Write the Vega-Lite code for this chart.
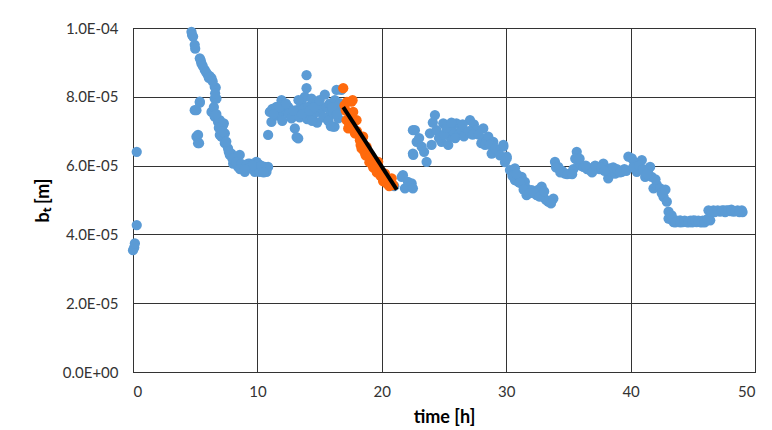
{
  "$schema": "https://vega.github.io/schema/vega-lite/v6.json",
  "width": 622,
  "height": 344,
  "autosize": {"type": "none"},
  "padding": {"left": 133, "top": 28, "right": 17, "bottom": 58},
  "background": "white",
  "config": {"view": {"stroke": "#000", "strokeWidth": 1}, "font": "Lato"},
  "datasets": {
    "blue": [
      {"t":0.0,"b":3.54e-5},{"t":0.1,"b":3.62e-5},{"t":0.15,"b":3.74e-5},{"t":0.3,"b":4.27e-5},{"t":0.3,"b":6.40e-5},
      {"t":4.70,"b":9.89e-5},{"t":4.83,"b":9.75e-5},{"t":4.96,"b":9.51e-5},{"t":5.37,"b":9.12e-5},{"t":5.50,"b":8.97e-5},
      {"t":5.77,"b":8.78e-5},{"t":6.03,"b":8.63e-5},{"t":6.17,"b":8.60e-5},{"t":6.31,"b":8.54e-5},{"t":6.57,"b":8.29e-5},
      {"t":6.65,"b":8.27e-5},{"t":6.71,"b":7.95e-5},{"t":6.57,"b":7.95e-5},{"t":6.44,"b":7.56e-5},{"t":6.31,"b":7.56e-5},
      {"t":6.57,"b":7.42e-5},{"t":6.84,"b":7.27e-5},{"t":6.98,"b":7.32e-5},{"t":7.11,"b":7.18e-5},{"t":7.24,"b":7.18e-5},
      {"t":7.30,"b":7.23e-5},{"t":6.98,"b":6.89e-5},{"t":7.11,"b":6.84e-5},{"t":7.38,"b":6.94e-5},{"t":7.38,"b":6.65e-5},
      {"t":7.64,"b":6.50e-5},{"t":7.78,"b":6.31e-5},{"t":7.91,"b":6.35e-5},{"t":8.05,"b":6.06e-5},{"t":8.18,"b":6.16e-5},
      {"t":8.58,"b":6.31e-5},{"t":8.45,"b":5.96e-5},{"t":8.85,"b":5.96e-5},{"t":8.99,"b":5.82e-5},{"t":9.25,"b":6.06e-5},
      {"t":9.39,"b":6.06e-5},{"t":9.52,"b":5.92e-5},{"t":9.79,"b":5.82e-5},{"t":9.92,"b":6.11e-5},{"t":10.05,"b":6.06e-5},
      {"t":10.19,"b":5.96e-5},{"t":10.19,"b":5.82e-5},{"t":10.46,"b":5.96e-5},{"t":10.6,"b":5.96e-5},{"t":10.73,"b":5.82e-5},
      {"t":10.86,"b":5.96e-5},
      {"t":4.75,"b":9.8e-5},{"t":5.0,"b":9.4e-5},{"t":5.45,"b":9.05e-5},{"t":5.6,"b":8.9e-5},{"t":5.9,"b":8.7e-5},
      {"t":6.1,"b":8.55e-5},{"t":6.4,"b":8.45e-5},{"t":6.6,"b":8.1e-5},{"t":6.5,"b":7.7e-5},{"t":6.7,"b":7.5e-5},
      {"t":6.9,"b":7.1e-5},{"t":7.2,"b":7.0e-5},{"t":7.5,"b":6.7e-5},{"t":7.7,"b":6.4e-5},{"t":8.0,"b":6.2e-5},
      {"t":8.3,"b":6.1e-5},{"t":8.7,"b":6.05e-5},{"t":9.1,"b":6.0e-5},{"t":9.6,"b":6.0e-5},{"t":10.3,"b":6.0e-5},
      {"t":10.5,"b":5.8e-5},{"t":8.6,"b":5.9e-5},{"t":9.0,"b":5.9e-5},
      {"t":4.96,"b":7.61e-5},{"t":5.10,"b":7.61e-5},{"t":5.37,"b":7.86e-5},{"t":5.37,"b":7.83e-5},{"t":5.10,"b":6.84e-5},
      {"t":5.23,"b":6.89e-5},{"t":5.23,"b":6.65e-5},{"t":5.31,"b":6.65e-5},
      {"t":10.86,"b":6.89e-5},{"t":11.0,"b":7.56e-5},{"t":11.13,"b":7.27e-5},{"t":11.2,"b":7.65e-5},{"t":11.53,"b":7.71e-5},
      {"t":11.6,"b":7.45e-5},{"t":11.94,"b":7.90e-5},{"t":12.07,"b":7.56e-5},{"t":12.2,"b":7.65e-5},{"t":12.47,"b":7.71e-5},
      {"t":12.5,"b":7.50e-5},{"t":12.74,"b":7.37e-5},{"t":13.01,"b":7.08e-5},{"t":13.15,"b":6.83e-5},{"t":13.28,"b":6.79e-5},
      {"t":13.15,"b":7.61e-5},{"t":13.4,"b":7.40e-5},{"t":13.55,"b":7.81e-5},{"t":13.7,"b":7.65e-5},{"t":13.81,"b":8.00e-5},
      {"t":13.95,"b":8.25e-5},{"t":13.95,"b":8.63e-5},{"t":14.0,"b":7.35e-5},{"t":14.08,"b":7.71e-5},{"t":14.35,"b":7.95e-5},
      {"t":14.48,"b":7.47e-5},{"t":14.75,"b":7.81e-5},{"t":14.8,"b":7.25e-5},{"t":15.02,"b":7.56e-5},{"t":15.2,"b":7.65e-5},
      {"t":15.42,"b":8.06e-5},{"t":15.56,"b":7.71e-5},{"t":15.8,"b":7.80e-5},{"t":15.82,"b":7.47e-5},{"t":16.09,"b":7.13e-5},
      {"t":16.1,"b":7.52e-5},{"t":16.2,"b":7.13e-5},{"t":16.23,"b":7.90e-5},{"t":16.36,"b":8.20e-5},{"t":16.5,"b":7.37e-5},
      {"t":16.5,"b":7.65e-5},{"t":16.63,"b":7.81e-5},{"t":16.75,"b":8.20e-5},
      {"t":11.3,"b":7.5e-5},{"t":11.8,"b":7.7e-5},{"t":12.3,"b":7.8e-5},{"t":12.9,"b":7.6e-5},{"t":13.3,"b":7.9e-5},
      {"t":13.6,"b":7.5e-5},{"t":14.2,"b":7.6e-5},{"t":14.6,"b":7.7e-5},{"t":15.0,"b":7.9e-5},{"t":15.3,"b":7.4e-5},
      {"t":15.7,"b":7.3e-5},{"t":16.0,"b":7.7e-5},{"t":16.4,"b":7.5e-5},{"t":12.0,"b":7.3e-5},{"t":14.4,"b":7.3e-5},
      {"t":15.9,"b":7.15e-5},
      {"t":20.6,"b":5.55e-5},{"t":21.0,"b":5.40e-5},{"t":21.6,"b":5.67e-5},{"t":21.7,"b":5.72e-5},{"t":21.86,"b":5.34e-5},
      {"t":22.1,"b":5.53e-5},{"t":22.4,"b":5.48e-5},{"t":22.5,"b":5.34e-5},{"t":22.53,"b":6.31e-5},{"t":22.5,"b":6.35e-5},
      {"t":22.8,"b":6.69e-5},{"t":22.66,"b":7.03e-5},{"t":22.5,"b":7.03e-5},{"t":23.2,"b":6.55e-5},{"t":23.6,"b":6.11e-5},
      {"t":23.87,"b":6.94e-5},{"t":24.27,"b":7.47e-5},{"t":24.4,"b":7.03e-5},{"t":24.8,"b":6.69e-5},{"t":24.94,"b":7.23e-5},
      {"t":25.34,"b":6.60e-5},{"t":25.48,"b":6.84e-5},{"t":25.7,"b":7.0e-5},{"t":26.0,"b":7.23e-5},{"t":26.2,"b":6.9e-5},
      {"t":26.42,"b":7.03e-5},{"t":26.8,"b":6.94e-5},{"t":27.09,"b":7.32e-5},{"t":27.4,"b":7.2e-5},{"t":27.62,"b":7.03e-5},
      {"t":28.0,"b":6.65e-5},{"t":28.16,"b":7.08e-5},{"t":28.4,"b":6.8e-5},{"t":28.56,"b":6.84e-5},{"t":28.83,"b":6.35e-5},
      {"t":28.96,"b":6.69e-5},{"t":29.36,"b":6.45e-5},{"t":29.77,"b":6.55e-5},{"t":29.77,"b":6.60e-5},{"t":30.04,"b":6.26e-5},
      {"t":23.0,"b":6.8e-5},{"t":23.4,"b":6.4e-5},{"t":24.0,"b":6.6e-5},{"t":24.6,"b":6.8e-5},{"t":25.0,"b":6.9e-5},
      {"t":25.2,"b":7.1e-5},{"t":25.9,"b":6.8e-5},{"t":26.5,"b":7.2e-5},{"t":26.6,"b":6.85e-5},{"t":27.0,"b":7.0e-5},
      {"t":27.3,"b":6.9e-5},{"t":27.8,"b":6.9e-5},{"t":28.3,"b":6.6e-5},{"t":28.7,"b":6.6e-5},{"t":29.1,"b":6.5e-5},
      {"t":29.5,"b":6.3e-5},{"t":29.9,"b":6.1e-5},{"t":24.1,"b":7.25e-5},{"t":25.6,"b":7.25e-5},
      {"t":30.04,"b":6.21e-5},{"t":30.3,"b":5.87e-5},{"t":30.7,"b":5.92e-5},{"t":30.7,"b":5.58e-5},{"t":30.97,"b":5.53e-5},
      {"t":31.24,"b":5.67e-5},{"t":31.5,"b":5.53e-5},{"t":31.64,"b":5.34e-5},{"t":31.64,"b":5.14e-5},{"t":32.05,"b":5.29e-5},
      {"t":32.45,"b":5.14e-5},{"t":32.6,"b":5.3e-5},{"t":32.85,"b":5.39e-5},{"t":32.99,"b":5.09e-5},{"t":33.2,"b":5.0e-5},
      {"t":33.38,"b":4.95e-5},{"t":33.79,"b":5.04e-5},
      {"t":30.5,"b":5.7e-5},{"t":30.85,"b":5.75e-5},{"t":31.1,"b":5.5e-5},{"t":31.4,"b":5.3e-5},{"t":31.85,"b":5.2e-5},
      {"t":32.2,"b":5.2e-5},{"t":32.7,"b":5.1e-5},{"t":33.05,"b":5.25e-5},{"t":33.6,"b":4.9e-5},
      {"t":33.92,"b":6.11e-5},{"t":34.19,"b":5.96e-5},{"t":34.5,"b":5.85e-5},
      {"t":34.73,"b":5.77e-5},{"t":35.13,"b":5.77e-5},{"t":35.4,"b":5.9e-5},{"t":35.67,"b":6.40e-5},{"t":35.8,"b":6.11e-5},
      {"t":36.0,"b":6.0e-5},{"t":36.2,"b":5.96e-5},{"t":36.5,"b":5.9e-5},{"t":36.74,"b":5.87e-5},{"t":37.0,"b":5.95e-5},
      {"t":37.28,"b":5.96e-5},{"t":37.5,"b":5.9e-5},{"t":37.81,"b":6.06e-5},{"t":38.0,"b":5.9e-5},{"t":38.2,"b":5.63e-5},
      {"t":38.35,"b":5.92e-5},{"t":38.5,"b":5.8e-5},{"t":38.75,"b":5.77e-5},{"t":39.0,"b":5.85e-5},{"t":39.29,"b":5.82e-5},
      {"t":39.5,"b":5.9e-5},{"t":39.82,"b":6.26e-5},{"t":40.1,"b":6.21e-5},{"t":40.3,"b":6.1e-5},{"t":40.5,"b":5.82e-5},
      {"t":40.9,"b":6.16e-5},{"t":41.17,"b":5.67e-5},{"t":41.4,"b":5.85e-5},{"t":41.57,"b":5.96e-5},{"t":41.7,"b":5.67e-5},
      {"t":34.0,"b":5.95e-5},{"t":34.35,"b":5.8e-5},{"t":34.9,"b":5.75e-5},{"t":35.3,"b":5.75e-5},{"t":35.55,"b":6.2e-5},
      {"t":35.9,"b":6.2e-5},{"t":36.4,"b":6.0e-5},{"t":36.9,"b":5.8e-5},{"t":37.15,"b":6.0e-5},{"t":37.65,"b":5.95e-5},
      {"t":37.9,"b":5.85e-5},{"t":38.6,"b":5.95e-5},{"t":38.9,"b":5.9e-5},{"t":39.15,"b":5.8e-5},{"t":39.65,"b":5.85e-5},
      {"t":40.2,"b":5.95e-5},{"t":40.7,"b":6.0e-5},{"t":41.0,"b":5.9e-5},{"t":41.3,"b":5.75e-5},
      {"t":41.84,"b":5.34e-5},{"t":42.1,"b":5.45e-5},{"t":42.38,"b":5.34e-5},{"t":42.65,"b":5.09e-5},{"t":42.91,"b":4.95e-5},
      {"t":43.05,"b":4.66e-5},{"t":43.05,"b":4.46e-5},{"t":43.45,"b":4.36e-5},{"t":43.7,"b":4.4e-5},{"t":43.98,"b":4.41e-5},
      {"t":44.2,"b":4.36e-5},{"t":44.52,"b":4.36e-5},{"t":44.8,"b":4.4e-5},{"t":45.05,"b":4.41e-5},{"t":45.3,"b":4.36e-5},
      {"t":45.59,"b":4.36e-5},{"t":45.8,"b":4.4e-5},{"t":46.12,"b":4.41e-5},{"t":46.26,"b":4.70e-5},{"t":46.4,"b":4.41e-5},
      {"t":46.66,"b":4.70e-5},{"t":46.9,"b":4.68e-5},{"t":47.19,"b":4.66e-5},{"t":47.5,"b":4.7e-5},{"t":47.73,"b":4.70e-5},
      {"t":48.0,"b":4.68e-5},{"t":48.27,"b":4.66e-5},{"t":48.6,"b":4.7e-5},{"t":48.94,"b":4.70e-5},
      {"t":42.0,"b":5.6e-5},{"t":42.5,"b":5.2e-5},{"t":42.8,"b":5.3e-5},{"t":43.2,"b":4.45e-5},{"t":43.3,"b":4.55e-5},
      {"t":43.6,"b":4.35e-5},{"t":44.0,"b":4.35e-5},{"t":44.35,"b":4.4e-5},{"t":44.65,"b":4.35e-5},{"t":44.95,"b":4.35e-5},
      {"t":45.2,"b":4.4e-5},{"t":45.45,"b":4.4e-5},{"t":45.7,"b":4.35e-5},{"t":45.95,"b":4.35e-5},{"t":46.2,"b":4.45e-5},
      {"t":46.5,"b":4.65e-5},{"t":46.75,"b":4.65e-5},{"t":47.0,"b":4.7e-5},{"t":47.35,"b":4.7e-5},{"t":47.6,"b":4.65e-5},
      {"t":47.85,"b":4.7e-5},{"t":48.1,"b":4.72e-5},{"t":48.45,"b":4.68e-5},{"t":48.75,"b":4.65e-5},{"t":49.0,"b":4.65e-5}
    ],
    "orange": [
      {"t":16.9,"b":8.25e-5},{"t":17.0,"b":7.75e-5},{"t":17.17,"b":7.32e-5},{"t":17.3,"b":7.08e-5},{"t":17.45,"b":7.5e-5},
      {"t":17.57,"b":7.86e-5},{"t":17.70,"b":7.56e-5},{"t":17.84,"b":6.94e-5},{"t":17.97,"b":7.32e-5},{"t":18.1,"b":6.9e-5},
      {"t":18.24,"b":6.74e-5},{"t":18.37,"b":6.50e-5},{"t":18.5,"b":6.84e-5},{"t":18.6,"b":6.4e-5},{"t":18.77,"b":6.55e-5},
      {"t":18.91,"b":6.31e-5},{"t":19.0,"b":6.1e-5},{"t":19.18,"b":6.16e-5},{"t":19.3,"b":5.95e-5},{"t":19.44,"b":6.06e-5},
      {"t":19.6,"b":5.8e-5},{"t":19.71,"b":6.11e-5},{"t":19.85,"b":5.87e-5},{"t":20.0,"b":5.75e-5},{"t":20.1,"b":5.55e-5},
      {"t":20.25,"b":5.77e-5},{"t":20.39,"b":5.48e-5},{"t":20.5,"b":5.6e-5},{"t":20.79,"b":5.63e-5},{"t":20.92,"b":5.43e-5},
      {"t":20.6,"b":5.4e-5},
      {"t":17.1,"b":7.6e-5},{"t":17.4,"b":7.2e-5},{"t":17.6,"b":7.1e-5},{"t":18.0,"b":7.0e-5},{"t":18.3,"b":6.6e-5},
      {"t":18.7,"b":6.3e-5},{"t":19.1,"b":6.3e-5},{"t":19.5,"b":5.9e-5},{"t":19.9,"b":5.7e-5},{"t":20.2,"b":5.65e-5},
      {"t":20.7,"b":5.5e-5},{"t":17.2,"b":7.85e-5},{"t":17.65,"b":7.9e-5}
    ],
    "fit": [
      {"t":16.9,"b":7.7e-5},{"t":21.2,"b":5.3e-5}
    ]
  },
  "encoding": {
    "x": {
      "field": "t", "type": "quantitative",
      "scale": {"domain": [0, 50], "nice": false, "zero": false},
      "axis": {
        "values": [0, 10, 20, 30, 40, 50],
        "grid": true, "gridColor": "#333", "gridWidth": 1,
        "domainColor": "#333", "ticks": false,
        "labelFont": "Lato", "labelFontSize": 15, "labelColor": "#333", "labelPadding": 12,
        "title": "time [h]", "titleFont": "Lato", "titleFontSize": 18, "titleFontWeight": "bold", "titleColor": "#000",
        "titleX": 311, "titleY": 45, "titleBaseline": "middle", "titleAlign": "center"
      }
    },
    "y": {
      "field": "b", "type": "quantitative",
      "scale": {"domain": [0, 0.0001], "nice": false},
      "axis": {
        "values": [0, 0.00002, 0.00004, 0.00006, 0.00008, 0.0001],
        "labelExpr": "replace(replace(upper(format(datum.value, '.1e')), 'E-', 'E-0'), 'E+', 'E+0')",
        "grid": true, "gridColor": "#333", "gridWidth": 1,
        "domainColor": "#333", "ticks": false,
        "labelFont": "Lato", "labelFontSize": 15, "labelColor": "#333", "labelPadding": 15,
        "title": "bₜ [m]", "titleFont": "Lato", "titleFontSize": 18, "titleFontWeight": "bold", "titleColor": "#000",
        "titleX": -90, "titleY": 172, "titleAngle": -90, "titleBaseline": "middle", "titleAlign": "center"
      }
    }
  },
  "layer": [
    {"data": {"name": "blue"}, "mark": {"type": "circle", "size": 105, "opacity": 1, "color": "#5B9BD5"}},
    {"data": {"name": "orange"}, "mark": {"type": "circle", "size": 105, "opacity": 1, "color": "#FF6A0D"}},
    {"data": {"name": "fit"}, "mark": {"type": "line", "color": "#000", "strokeWidth": 4}, "encoding": {}}
  ]
}
